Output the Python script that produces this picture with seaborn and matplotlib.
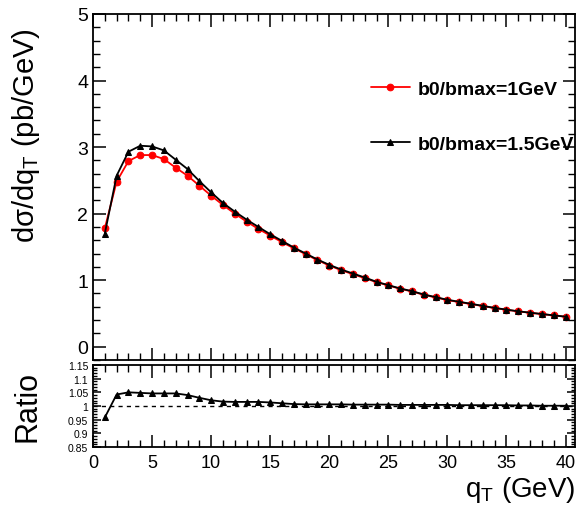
import numpy as np
import pandas as pd
import seaborn as sns
import matplotlib
matplotlib.use("Agg")
import matplotlib.pyplot as plt
from matplotlib.ticker import MultipleLocator, FixedLocator, FixedFormatter

qt = list(range(1, 41))
red_vals = [1.78, 2.48, 2.79, 2.88, 2.88, 2.82, 2.69, 2.57, 2.42, 2.27,
            2.13, 2.00, 1.88, 1.77, 1.67, 1.57, 1.48, 1.39, 1.30, 1.22,
            1.15, 1.09, 1.03, 0.97, 0.92, 0.87, 0.83, 0.78, 0.74, 0.70,
            0.67, 0.64, 0.61, 0.58, 0.555, 0.53, 0.51, 0.49, 0.47, 0.45]
black_vals = [1.70, 2.57, 2.93, 3.02, 3.01, 2.95, 2.81, 2.67, 2.49, 2.32,
              2.16, 2.03, 1.91, 1.80, 1.69, 1.59, 1.49, 1.40, 1.31, 1.23,
              1.16, 1.10, 1.04, 0.975, 0.925, 0.875, 0.835, 0.785, 0.745, 0.705,
              0.675, 0.645, 0.613, 0.583, 0.557, 0.532, 0.511, 0.491, 0.471, 0.451]
ratio_vals = [0.958, 1.042, 1.05, 1.048, 1.046, 1.046, 1.046, 1.04, 1.03, 1.021,
              1.016, 1.015, 1.015, 1.015, 1.013, 1.01, 1.007, 1.006, 1.006, 1.006,
              1.006, 1.005, 1.005, 1.005, 1.005, 1.004, 1.004, 1.004, 1.004, 1.004,
              1.003, 1.003, 1.003, 1.003, 1.003, 1.002, 1.002, 1.001, 1.001, 1.001]
label_red = "b0/bmax=1GeV"
label_black = "b0/bmax=1.5GeV"
ratio_ticks = [0.85, 0.9, 0.95, 1.0, 1.05, 1.1, 1.15]
ratio_ticklabels = ["0.85", "0.9", "0.95", "1", "1.05", "1.1", "1.15"]

sns.set_theme(style="ticks")
plt.rcParams['font.family'] = ['Liberation Sans', 'DejaVu Sans']
plt.rcParams['mathtext.fontset'] = 'custom'
plt.rcParams['mathtext.rm'] = 'Liberation Sans'
plt.rcParams['mathtext.it'] = 'Liberation Sans'
plt.rcParams['text.color'] = 'black'
plt.rcParams['axes.labelcolor'] = 'black'
plt.rcParams['xtick.color'] = 'black'
plt.rcParams['ytick.color'] = 'black'

fig = plt.figure(figsize=(5.79, 5.10), dpi=100)
ax1 = fig.add_axes([93/579, 1-361/510, 482/579, 346/510])
ax2 = fig.add_axes([93/579, 1-448/510, 482/579, 82/510])

df = pd.DataFrame({"qt": qt, "red": red_vals, "black": black_vals, "ratio": ratio_vals})

sns.lineplot(data=df, x="qt", y="red", ax=ax1, color="red", marker="o",
             markersize=4.8, markeredgecolor="red", linewidth=1.3, label=label_red)
sns.lineplot(data=df, x="qt", y="black", ax=ax1, color="black", marker="^",
             markersize=5, markeredgecolor="black", linewidth=1.3, label=label_black)

sns.lineplot(data=df, x="qt", y="ratio", ax=ax2, color="black", marker="^",
             markersize=5, markeredgecolor="black", linewidth=1.3)
ax2.axhline(1.0, color="black", linestyle=(0, (3, 3)), linewidth=1.0)

for ax in (ax1, ax2):
    ax.set_xlim(0, 40.8)
    for s in ax.spines.values():
        s.set_linewidth(1.3)
        s.set_color("black")
    ax.tick_params(which="both", direction="in", top=True, right=True, color="black",
                   labelcolor="black")
    ax.tick_params(which="major", length=9, width=1.1)
    ax.tick_params(which="minor", length=5, width=1.0)
    ax.xaxis.set_major_locator(MultipleLocator(5))
    ax.xaxis.set_minor_locator(MultipleLocator(1))

ax1.set_ylim(-0.2, 5)
ax1.yaxis.set_major_locator(MultipleLocator(1))
ax1.yaxis.set_minor_locator(MultipleLocator(0.2))
ax1.tick_params(axis="y", labelsize=14)
ax1.tick_params(axis="x", labelbottom=False)
ax1.set_xlabel("")
ax1.set_ylabel(r"d$\sigma$/dq$_{\mathrm{T}}$ (pb/GeV)", fontsize=21)
ax1.yaxis.set_label_coords(-0.105, 0.65)

ax2.set_ylim(0.85, 1.15)
ax2.yaxis.set_major_locator(FixedLocator(ratio_ticks))
ax2.yaxis.set_major_formatter(FixedFormatter(ratio_ticklabels))
ax2.yaxis.set_minor_locator(MultipleLocator(0.01))
ax2.tick_params(axis="y", which="major", labelsize=7.5, length=6)
ax2.tick_params(axis="y", which="minor", length=3)
ax2.tick_params(axis="x", labelsize=13, pad=5)
ax2.set_ylabel("Ratio", fontsize=22)
ax2.yaxis.set_label_coords(-0.105, 0.5)
ax2.set_xlabel(r"q$_{\mathrm{T}}$ (GeV)", fontsize=20, loc="right", labelpad=2)

leg = ax1.legend(loc="upper left", bbox_to_anchor=(0.56, 0.83), frameon=False,
                 prop={"weight": "bold", "size": 14}, handlelength=2.0,
                 labelspacing=1.9, handletextpad=0.4, borderaxespad=0)

fig.savefig("out.png", dpi=100)
